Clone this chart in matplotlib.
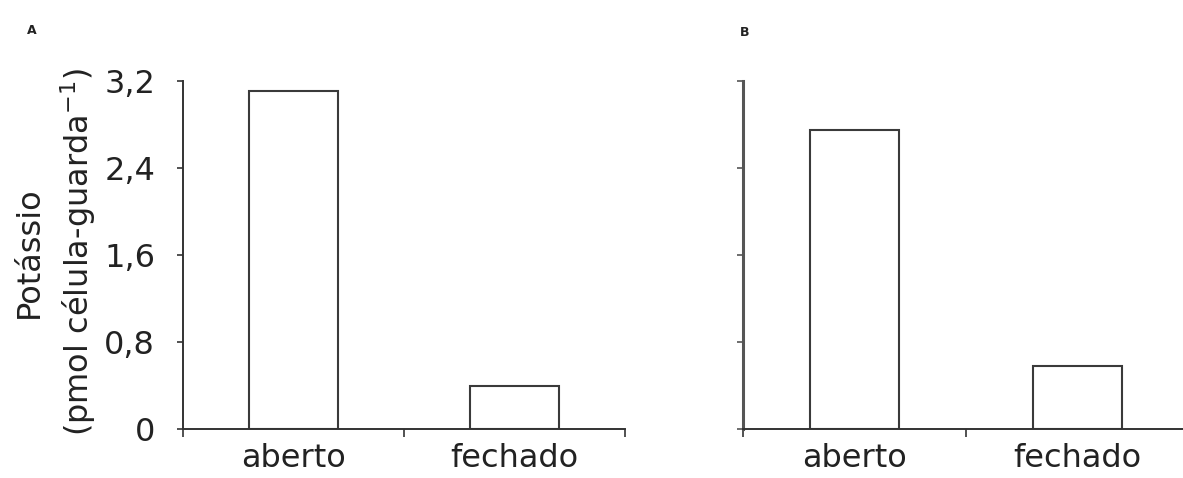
import matplotlib
matplotlib.use("Agg")
import matplotlib.pyplot as plt
from matplotlib.ticker import FixedLocator

plt.rcParams['font.family'] = ['DejaVu Sans']
plt.rcParams['mathtext.fontset'] = 'dejavusans'

categories = ["aberto", "fechado"]
values_a = [3.11, 0.40]
values_b = [2.75, 0.58]
yticks = [0, 0.8, 1.6, 2.4, 3.2]
ytick_labels = ["0", "0,8", "1,6", "2,4", "3,2"]

W, H = 1183, 478
fig = plt.figure(figsize=(W / 100, H / 100), dpi=100)

ax1 = fig.add_axes([183 / W, 1 - 429 / H, 442 / W, 348 / H])
ax2 = fig.add_axes([743 / W, 1 - 429 / H, 440 / W, 348 / H])

fs = 23
for ax, vals, xmax, col in [(ax1, values_a, 1.5, '#333333'), (ax2, values_b, -0.5 + 2 * 440 / 446, '#555555')]:
    x = list(range(len(categories)))
    ax.bar(x, vals, width=0.40, facecolor='white', edgecolor='#3a3a3a', linewidth=1.5)
    ax.set_xlim(-0.5, xmax)
    ax.set_ylim(0, 3.2)
    for s in ['top', 'right']:
        ax.spines[s].set_visible(False)
    ax.spines['bottom'].set_color('#333333')
    ax.spines['bottom'].set_linewidth(1.4)
    ax.spines['left'].set_color(col)
    ax.spines['left'].set_linewidth(1.4 if ax is ax1 else 2.2)
    ax.set_xticks(x)
    ax.set_xticklabels(categories, fontsize=fs, color='#222222')
    ax.xaxis.set_minor_locator(FixedLocator([-0.5, 0.5, 1.5]))
    ax.tick_params(axis='x', which='major', length=0, pad=10)
    ax.tick_params(axis='x', which='minor', length=6, width=1.2, color='#333333', direction='out')
    ax.set_yticks(yticks)
    ax.tick_params(axis='y', length=4, width=1.2, color=col, direction='out', pad=16)

ax1.set_yticklabels(ytick_labels, fontsize=fs, color='#222222')
ax2.set_yticklabels([])

fig.text(29 / W, 1 - 252 / H, "Potássio", rotation=90, fontsize=fs, color='#222222',
         ha='center', va='center')
fig.text(78 / W, 1 - 252 / H, "(pmol célula-guarda$^{-1}$)", rotation=90, fontsize=fs,
         color='#222222', ha='center', va='center')

fig.text(32 / W, 1 - 30 / H, "A", fontsize=9, fontweight='bold', color='#222222', ha='center', va='center')
fig.text(745 / W, 1 - 32 / H, "B", fontsize=9, fontweight='bold', color='#222222', ha='center', va='center')

fig.savefig("out.png", dpi=100, facecolor='white')
